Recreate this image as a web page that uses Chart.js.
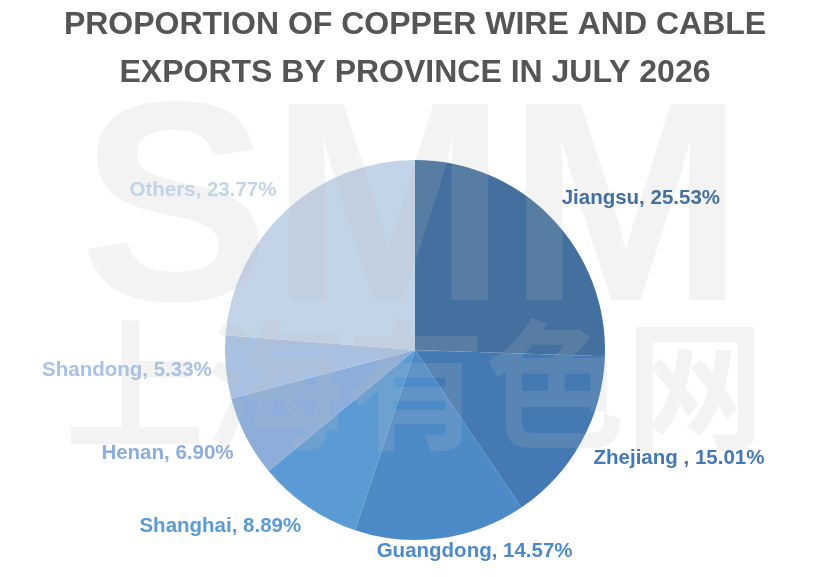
<!DOCTYPE html>
<html lang="en">
<head>
    <meta charset="UTF-8">
    <title>Copper Wire and Cable Exports by Province</title>
    <script src="https://cdn.jsdelivr.net/npm/chart.js"></script>
    <style>
        html, body {
            margin: 0;
            padding: 0;
            background: #fff;
        }
        #wrap {
            width: 830px;
            height: 577px;
            position: relative;
        }
    </style>
</head>
<body>
    <div id="wrap">
        <canvas id="shareChart"></canvas>
    </div>

    <script>
        const titleLines = ['PROPORTION OF COPPER WIRE AND CABLE', 'EXPORTS BY PROVINCE IN JULY 2026'];
        const provinces = ['Jiangsu', 'Zhejiang ', 'Guangdong', 'Shanghai', 'Henan', 'Shandong', 'Others'];
        const shares = [25.53, 15.01, 14.57, 8.89, 6.90, 5.33, 23.77];
        const sliceColors = ['#43709e', '#4479b3', '#4d8ac8', '#5b9bd5', '#8daedb', '#a9c1e2', '#c4d4e8'];

        // faint site watermark over the pie
        const watermark = {
            id: 'watermark',
            afterDatasetsDraw(chart) {
                const ctx = chart.ctx;
                ctx.save();
                ctx.fillStyle = 'rgba(187,187,187,0.18)';
                ctx.textAlign = 'center';
                ctx.textBaseline = 'alphabetic';
                ctx.font = 'bold 285px "Liberation Sans"';
                ctx.fillText('SMM', 412, 300);
                ctx.textBaseline = 'middle';
                ctx.font = 'bold 140px "Noto Sans CJK SC"';
                ctx.fillText('上海有色网', 415, 385);
                ctx.restore();
            }
        };

        // "Name, xx.xx%" labels outside each slice
        const outsideLabels = {
            id: 'outsideLabels',
            afterDraw(chart) {
                const ctx = chart.ctx;
                const meta = chart.getDatasetMeta(0);
                const h = 20;
                ctx.save();
                ctx.font = 'bold 20.5px "Liberation Sans"';
                ctx.textAlign = 'left';
                ctx.textBaseline = 'middle';
                meta.data.forEach((arc, i) => {
                    const p = arc.getProps(['x', 'y', 'startAngle', 'endAngle', 'outerRadius'], true);
                    const mid = (p.startAngle + p.endAngle) / 2;
                    const dx = Math.cos(mid), dy = Math.sin(mid);
                    // labels straight below the pie sit a bit closer
                    const d = p.outerRadius + 14 - (dy > 0 ? 12 * Math.pow(dy, 8) : 0);
                    const ax = p.x + d * dx, ay = p.y + d * dy;
                    const text = provinces[i] + ', ' + shares[i].toFixed(2) + '%';
                    const w = ctx.measureText(text).width;
                    const s = Math.max(-1, Math.min(1, dx * 2.5));
                    const t = Math.max(-1, Math.min(1, dy * 2.5));
                    const left = ax - w * (1 - s) / 2;
                    const top = ay - h * (1 - t) / 2;
                    ctx.fillStyle = sliceColors[i];
                    ctx.fillText(text, left, top + h / 2);
                });
                ctx.restore();
            }
        };

        new Chart(document.getElementById('shareChart'), {
            type: 'pie',
            data: {
                labels: provinces,
                datasets: [{
                    data: shares,
                    backgroundColor: sliceColors,
                    borderWidth: 0
                }]
            },
            options: {
                responsive: true,
                maintainAspectRatio: false,
                animation: false,
                layout: {
                    padding: { top: 0, bottom: 37, left: 0, right: 0 }
                },
                plugins: {
                    legend: { display: false },
                    tooltip: { enabled: false },
                    title: {
                        display: true,
                        text: titleLines,
                        color: '#555555',
                        font: { family: '"Liberation Sans"', size: 32, weight: 'bold', lineHeight: 1.5 },
                        padding: { top: 1, bottom: 63 }
                    }
                }
            },
            plugins: [watermark, outsideLabels]
        });
    </script>
</body>
</html>
